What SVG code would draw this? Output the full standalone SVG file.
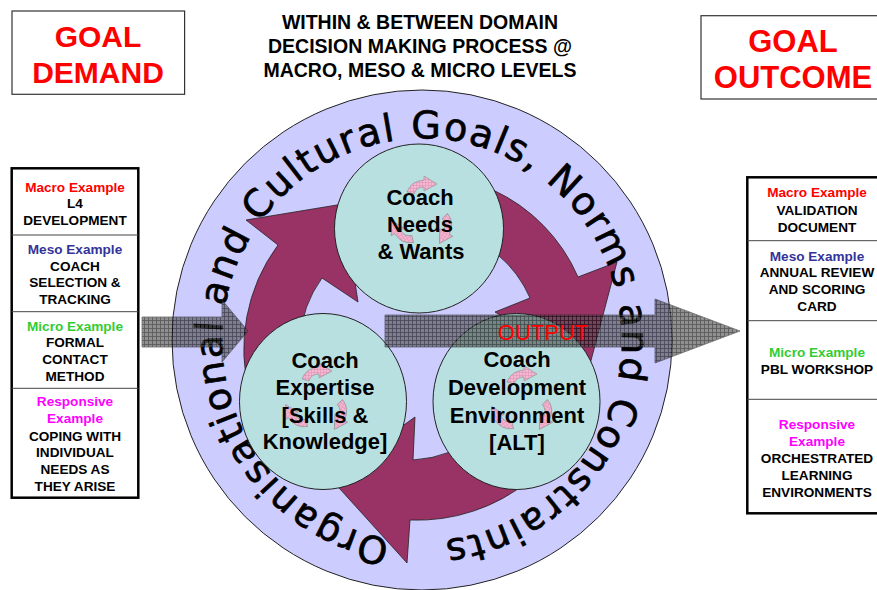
<svg xmlns="http://www.w3.org/2000/svg" width="877" height="590" viewBox="0 0 877 590">
  <defs>
    <!-- dark cross-hatch used by the input/output arrows -->
    <pattern id="grid" width="4" height="4" patternUnits="userSpaceOnUse">
      <rect width="4" height="4" fill="#555"/>
      <path d="M0 0.5H4M0.5 0V4" stroke="#000" stroke-width="0.8"/>
    </pattern>
    <!-- pale pink hatch for the small cycle arrows -->
    <pattern id="pinkgrid" width="3" height="3" patternUnits="userSpaceOnUse">
      <rect width="3" height="3" fill="#f4b8d2"/>
      <path d="M0 0.5H3M0.5 0V3" stroke="#de8fb3" stroke-width="0.5"/>
    </pattern>
    <!-- small curved arrow, centred on the origin, pointing right -->
    <path id="cyc" d="M -15 7 Q -11 -4 2 -5 L 2 -9 L 15 -1 L 2 6 L 2 2 Q -6 2 -8 9 Z"/>
    <!-- clockwise baseline circle for the ring caption -->
    <path id="ringPath" d="M 390.4 539.5 A 202 202 0 0 1 453.6 140.5 A 202 202 0 0 1 390.4 539.5"/>
    <style>
      .box { fill: #fff; stroke: #333; stroke-width: 1.2; }
      .goal { font-family: "Liberation Sans", Arial, sans-serif; font-weight: bold; font-size: 30px; fill: #ff0000; text-anchor: middle; }
      .title { font-family: "Liberation Sans", Arial, sans-serif; font-weight: bold; font-size: 19.5px; fill: #000; text-anchor: middle; }
      .col { fill: #fff; stroke: #000; stroke-width: 2.5; }
      .div { stroke: #444; stroke-width: 1; }
      .lbl { font-family: "Liberation Sans", Arial, sans-serif; font-weight: bold; font-size: 13.6px; fill: #000; text-anchor: middle; }
      .macro { fill: #ff0000; }
      .meso { fill: #333399; }
      .micro { fill: #33cc33; }
      .resp { fill: #ff00ff; }
      .ring { fill: #ccccff; stroke: #222; stroke-width: 1; }
      .cycle { fill: #993366; stroke: #222; stroke-width: 0.8; stroke-linejoin: miter; }
      .ringtext { font-family: "DejaVu Sans", "Liberation Sans", sans-serif; font-size: 38px; fill: #000; stroke: #000; stroke-width: 0.7; }
      .node { fill: #b9e0e0; stroke: #222; stroke-width: 1; }
      .small { fill: url(#pinkgrid); stroke: #8a8a8a; stroke-width: 0.6; }
      .ntext { font-family: "Liberation Sans", Arial, sans-serif; font-weight: bold; font-size: 22px; fill: #000; text-anchor: middle; }
      .hatch { fill: url(#grid); stroke: #222; stroke-width: 0.8; opacity: 0.65; }
      .out { font-family: "Liberation Sans", Arial, sans-serif; font-size: 22px; fill: #ff0000; text-anchor: middle; }
    </style>
  </defs>

  <rect width="877" height="590" fill="#fff"/>

  <!-- heading -->
  <g id="title">
    <text class="title" x="420" y="29">WITHIN &amp; BETWEEN DOMAIN</text>
    <text class="title" x="420" y="53">DECISION MAKING PROCESS @</text>
    <text class="title" x="420" y="77">MACRO, MESO &amp; MICRO LEVELS</text>
  </g>

  <g id="goal-demand">
    <rect class="box" x="12" y="11" width="172.6" height="83.3"/>
    <text class="goal" x="98" y="47">GOAL</text>
    <text class="goal" x="98" y="83">DEMAND</text>
  </g>

  <g id="goal-outcome">
    <rect class="box" x="701" y="15.7" width="190" height="83.3"/>
    <text class="goal" x="793" y="51.5" style="font-size:31px">GOAL</text>
    <text class="goal" x="793" y="88" style="font-size:31px">OUTCOME</text>
  </g>

  <!-- demand examples -->
  <g id="demand-examples">
    <rect class="col" x="11.7" y="168.3" width="126.6" height="329.4"/>
    <line class="div" x1="11.7" y1="235" x2="138.3" y2="235"/>
    <line class="div" x1="11.7" y1="311.7" x2="138.3" y2="311.7"/>
    <line class="div" x1="11.7" y1="388.3" x2="138.3" y2="388.3"/>
    <text class="lbl macro" x="75" y="191.7">Macro Example</text>
    <text class="lbl" x="75" y="208.3">L4</text>
    <text class="lbl" x="75" y="225">DEVELOPMENT</text>
    <text class="lbl meso" x="75" y="254">Meso Example</text>
    <text class="lbl" x="75" y="270.7">COACH</text>
    <text class="lbl" x="75" y="287.3">SELECTION &amp;</text>
    <text class="lbl" x="75" y="304">TRACKING</text>
    <text class="lbl micro" x="75" y="330.7">Micro Example</text>
    <text class="lbl" x="75" y="347.3">FORMAL</text>
    <text class="lbl" x="75" y="364">CONTACT</text>
    <text class="lbl" x="75" y="380.7">METHOD</text>
    <text class="lbl resp" x="75" y="406">Responsive</text>
    <text class="lbl resp" x="75" y="423.3">Example</text>
    <text class="lbl" x="75" y="440.7">COPING WITH</text>
    <text class="lbl" x="75" y="457.3">INDIVIDUAL</text>
    <text class="lbl" x="75" y="474">NEEDS AS</text>
    <text class="lbl" x="75" y="491">THEY ARISE</text>
  </g>

  <!-- outcome examples -->
  <g id="outcome-examples">
    <rect class="col" x="747.3" y="177.3" width="145" height="336"/>
    <line class="div" x1="747.3" y1="240.7" x2="892" y2="240.7"/>
    <line class="div" x1="747.3" y1="320.7" x2="892" y2="320.7"/>
    <line class="div" x1="747.3" y1="399.3" x2="892" y2="399.3"/>
    <text class="lbl macro" x="817" y="197.3">Macro Example</text>
    <text class="lbl" x="817" y="215">VALIDATION</text>
    <text class="lbl" x="817" y="231.7">DOCUMENT</text>
    <text class="lbl meso" x="817" y="260.7">Meso Example</text>
    <text class="lbl" x="817" y="277.3">ANNUAL REVIEW</text>
    <text class="lbl" x="817" y="294">AND SCORING</text>
    <text class="lbl" x="817" y="310.7">CARD</text>
    <text class="lbl micro" x="817" y="357.3">Micro Example</text>
    <text class="lbl" x="817" y="374">PBL WORKSHOP</text>
    <text class="lbl resp" x="817" y="429.3">Responsive</text>
    <text class="lbl resp" x="817" y="446">Example</text>
    <text class="lbl" x="817" y="463.3">ORCHESTRATED</text>
    <text class="lbl" x="817" y="480">LEARNING</text>
    <text class="lbl" x="817" y="496.7">ENVIRONMENTS</text>
  </g>

  <!-- outer context ring -->
  <g id="context-ring">
    <circle class="ring" cx="422" cy="340" r="250"/>
  </g>

  <!-- cycle arrows between the three domains -->
  <g id="connectors">
    <path class="cycle" d="M 290 400 L 250 395 A 175 175 0 0 1 278 245 L 246 220 L 343 204 L 358 302 L 322 278 A 117 117 0 0 0 300 340 Z"/>
    <path class="cycle" d="M 470 215 L 493 190 A 170 170 0 0 1 578 277 L 617 262 L 589 368 L 495 312 L 530 298 A 116 116 0 0 0 498 255 L 470 250 Z"/>
    <path class="cycle" d="M 450 452 L 529.6 480.3 A 178 178 0 0 1 410 520 L 407 563 L 330 478 L 415 417 L 413 460 A 120 120 0 0 0 450 452 Z"/>
  </g>

  <g id="ring-caption">
    <text class="ringtext"><textPath href="#ringPath" textLength="1205" lengthAdjust="spacing">Organisational and Cultural Goals, Norms and Constraints</textPath></text>
  </g>

  <g id="needs">
    <circle class="node" cx="419" cy="228.5" r="84.5"/>
    <use href="#cyc" class="small" transform="translate(422 185)"/>
    <use href="#cyc" class="small" transform="translate(446 230) rotate(120)"/>
    <use href="#cyc" class="small" transform="translate(400 233) rotate(240)"/>
    <text class="ntext" x="420" y="205">Coach</text>
    <text class="ntext" x="420" y="232">Needs</text>
    <text class="ntext" x="421" y="259">&amp; Wants</text>
  </g>

  <g id="expertise">
    <ellipse class="node" cx="323" cy="401.5" rx="83.5" ry="88"/>
    <use href="#cyc" class="small" transform="translate(317 372)"/>
    <use href="#cyc" class="small" transform="translate(341 416) rotate(120)"/>
    <use href="#cyc" class="small" transform="translate(294 417) rotate(240)"/>
    <text class="ntext" x="325" y="368">Coach</text>
    <text class="ntext" x="325" y="395">Expertise</text>
    <text class="ntext" x="325" y="422.7">[Skills &amp;</text>
    <text class="ntext" x="325" y="449">Knowledge]</text>
  </g>

  <g id="environment">
    <ellipse class="node" cx="516.5" cy="401.5" rx="83.5" ry="88"/>
    <use href="#cyc" class="small" transform="translate(522 375)"/>
    <use href="#cyc" class="small" transform="translate(546 416) rotate(120)"/>
    <use href="#cyc" class="small" transform="translate(500 419) rotate(240)"/>
    <text class="ntext" x="517" y="367.3">Coach</text>
    <text class="ntext" x="517" y="395">Development</text>
    <text class="ntext" x="517" y="422.7">Environment</text>
    <text class="ntext" x="517" y="450">[ALT]</text>
  </g>

  <!-- demand in, outcome out -->
  <g id="flow-arrows">
    <path class="hatch" d="M 142 317 L 222 317 L 222 300 L 248 331 L 222 362 L 222 347 L 142 347 Z"/>
    <path class="hatch" d="M 385 315 L 655 315 L 655 299 L 740 331 L 655 363 L 655 347 L 385 347 Z"/>
    <text class="out" x="543" y="340">OUTPUT</text>
  </g>
</svg>
